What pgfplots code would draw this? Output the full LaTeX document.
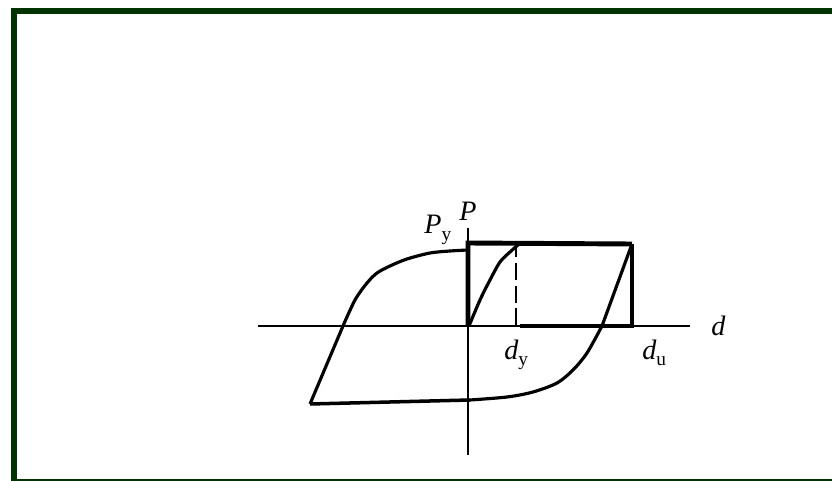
\documentclass[border=0pt]{standalone}
\usepackage{fontspec}
\setmainfont{Liberation Serif}
\usepackage{pgfplots}
\pgfplotsset{compat=1.18}
\definecolor{framegreen}{RGB}{0,51,0}
\newcommand{\sub}[1]{\raisebox{-0.5ex}{\fontsize{5.5}{6}\selectfont\upshape #1}}
\begin{document}
\begin{tikzpicture}
\begin{axis}[scale only axis, width=83.2mm, height=48.1mm,
  xmin=0, xmax=832, ymin=0, ymax=481, hide axis, clip=true]
% frame
\addplot[framegreen, line width=1.7pt] coordinates {(14,0) (14,470) (832,470)};
\addplot[framegreen, line width=0.45pt] coordinates {(14,1.2) (832,1.2)};
% axes
\addplot[black, line width=0.55pt] coordinates {(258,155) (690,155)};
\addplot[black, line width=0.55pt] coordinates {(468,253) (468,26)};
% thick lines
\addplot[black, line width=1.4pt] coordinates {(468,155) (468,238) (632,237)};
\addplot[black, line width=1.0pt] coordinates {(632,237) (632,155) (520,155)};
\addplot[black, line width=0.8pt, dashed, dash pattern=on 5pt off 1.5pt] coordinates {(516,155) (516,235)};
% initial loading curve
\addplot[black, line width=0.9pt, smooth] coordinates {(469,155) (480,181) (490,201) (500,219) (510,229) (518,236)};
% unloading branch
\addplot[black, line width=0.9pt] coordinates {(632,237) (602,155)};
\addplot[black, line width=0.9pt, smooth] coordinates {(602,155) (587,128) (573,111) (557,98) (533,89) (507,84) (470,81)};
\addplot[black, line width=1.0pt] coordinates {(470,81) (310,77)};
% reloading branch
\addplot[black, line width=0.9pt] coordinates {(310,77) (343,155)};
\addplot[black, line width=0.9pt, smooth] coordinates {(343,155) (355,181) (367,198) (377,208) (390,215) (407,222) (430,228) (450,230) (468,231)};
% labels
\node[font=\fontsize{8}{9}\selectfont\itshape] at (axis cs:468,270) {P};
\node[font=\fontsize{8}{9}\selectfont\itshape, anchor=west] at (axis cs:412,251) {P\sub{y}};
\node[font=\fontsize{8}{9}\selectfont\itshape, anchor=west] at (axis cs:699,155) {d};
\node[font=\fontsize{8}{9}\selectfont\itshape, anchor=west] at (axis cs:492,126) {d\sub{y}};
\node[font=\fontsize{8}{9}\selectfont\itshape, anchor=west] at (axis cs:630,128) {d\sub{u}};
\end{axis}
\pgfresetboundingbox
\path (current axis.south west) rectangle (current axis.north east);
\end{tikzpicture}
\end{document}
